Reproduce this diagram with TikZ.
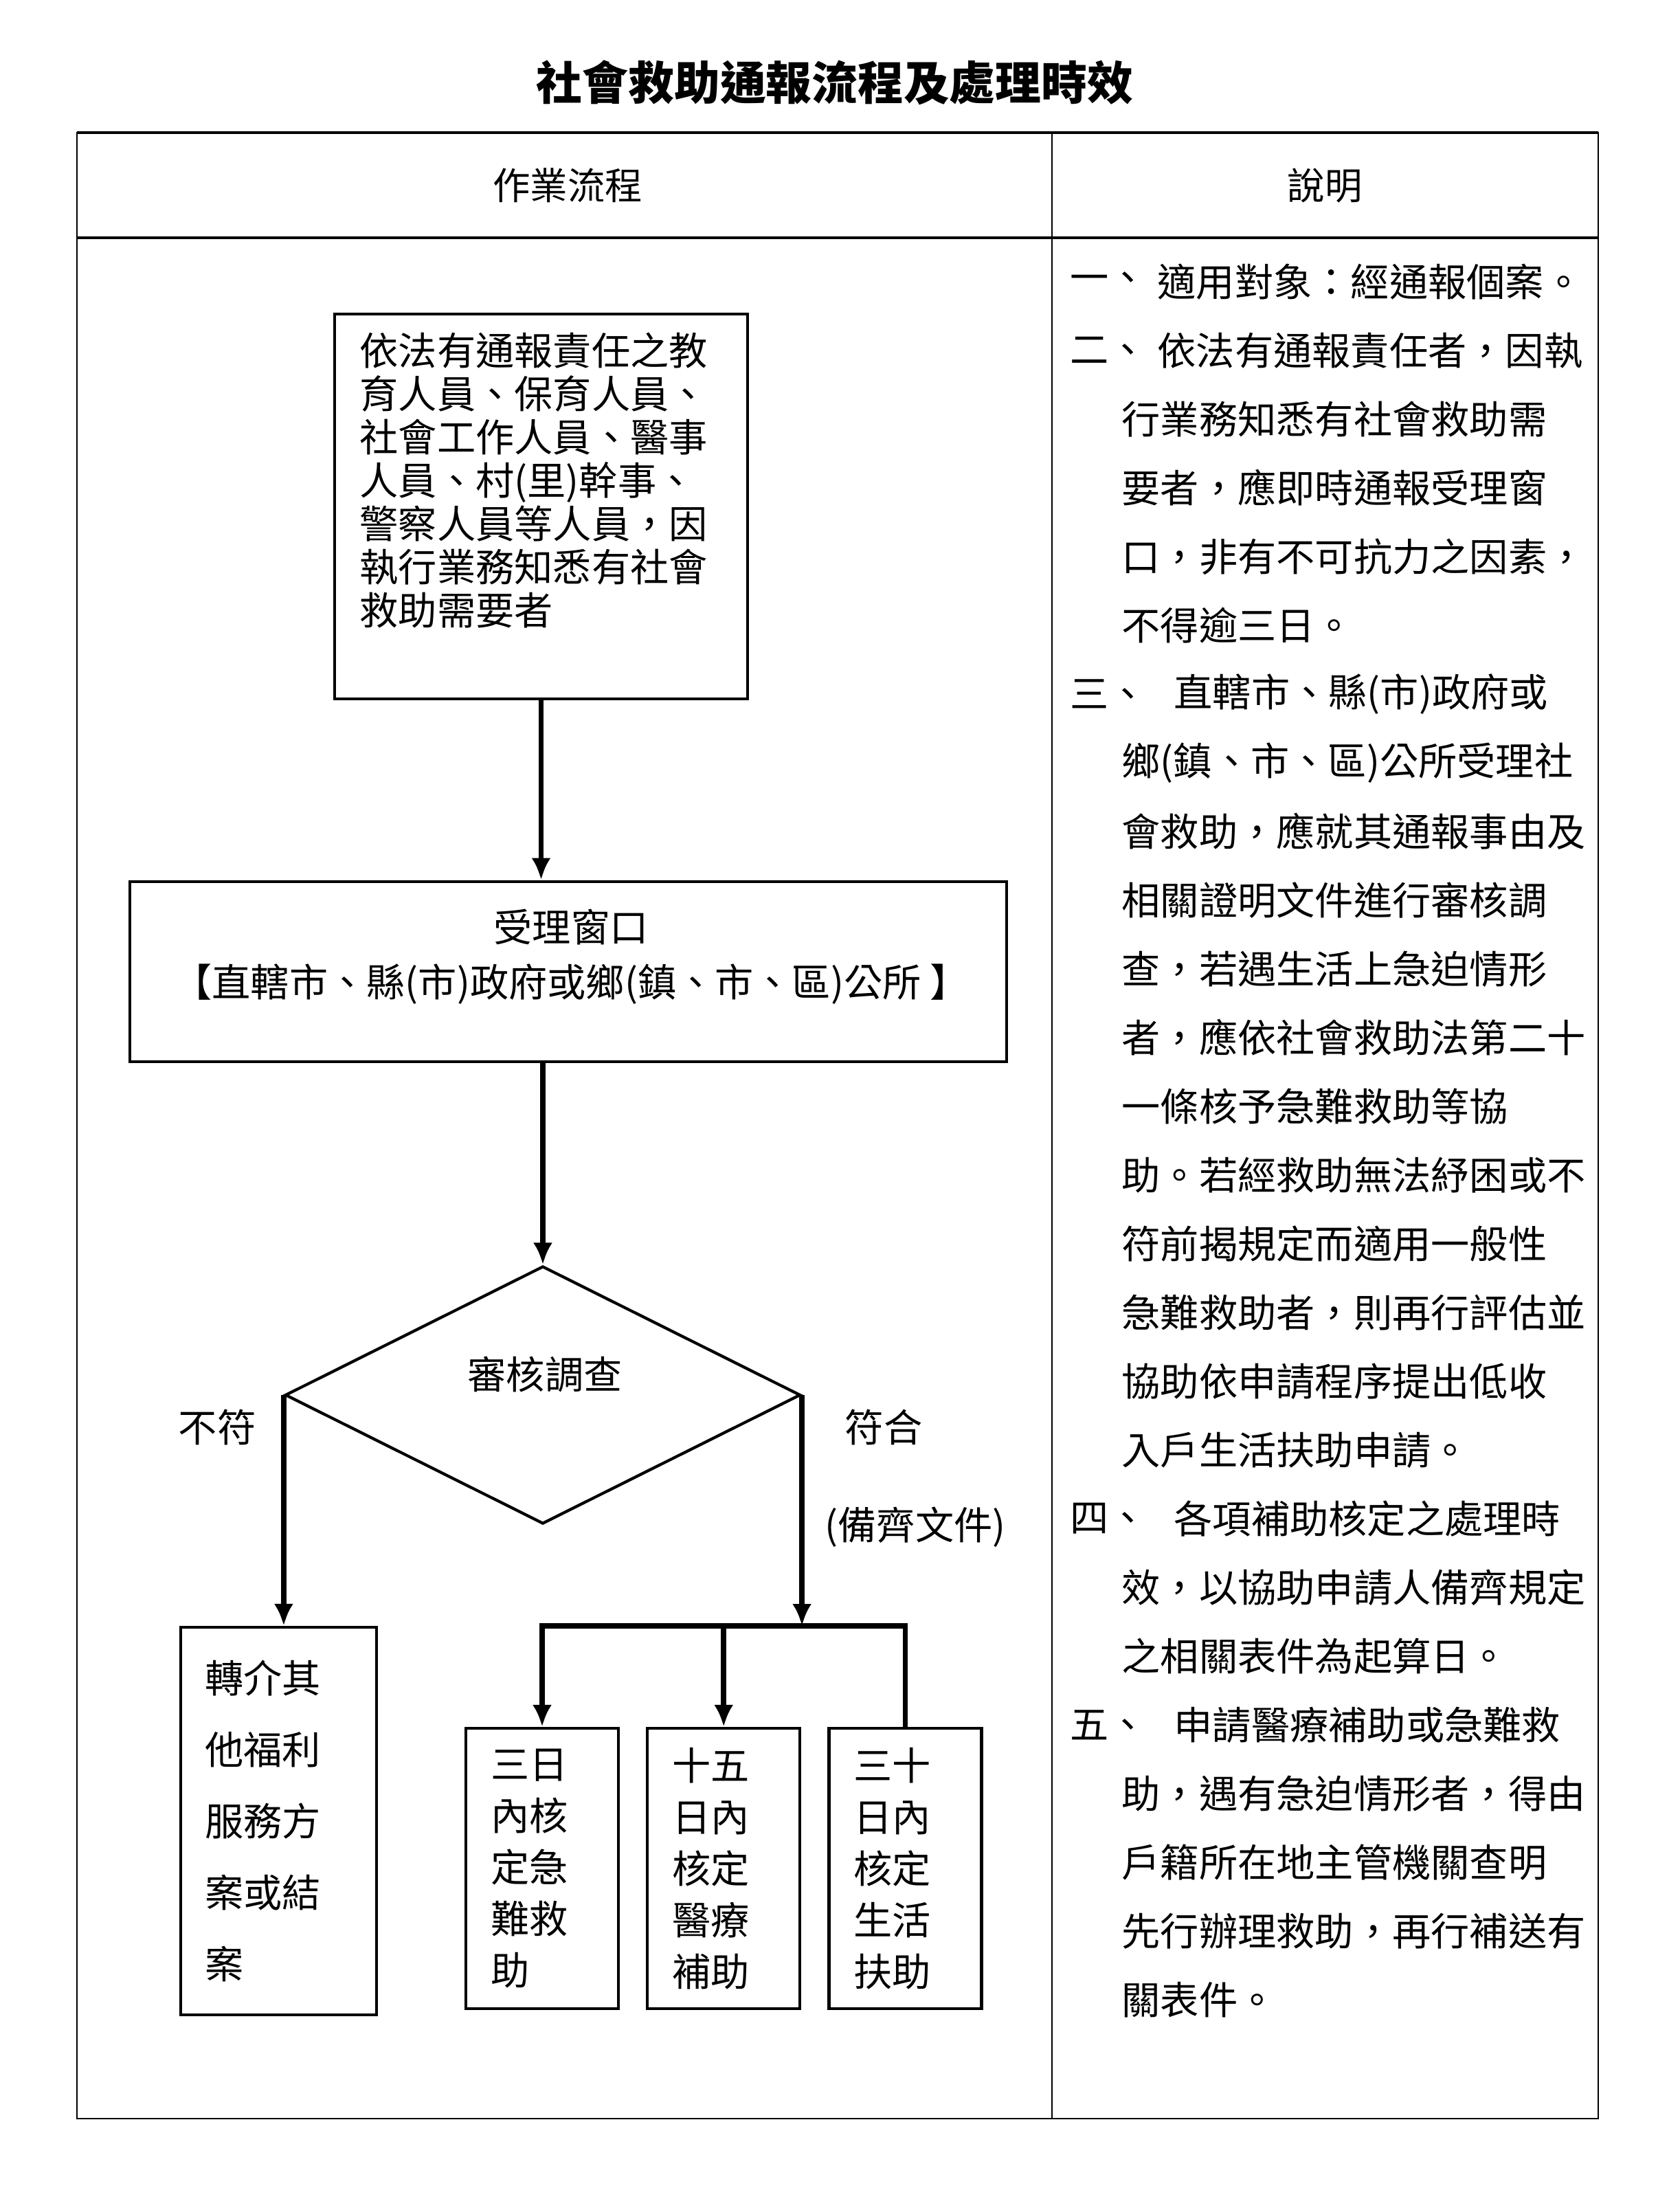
\documentclass[tikz,border=0pt]{standalone}
\usepackage{fontspec}
\setmainfont{Noto Sans CJK TC}
\usetikzlibrary{shapes.geometric,positioning,arrows.meta}
\tikzstyle{arrow} = [line width=2.2pt,-{Latex[length=3.2mm,width=2.8mm]}]
\tikzstyle{frame} = [line width=0.8pt]
\tikzset{
 box/.style
  = {rectangle, draw, line width=1.4pt, inner sep=0pt},
 stagebox/.style
  = {rectangle, draw, line width=1.2pt, align=left, text width=1.5cm,
     inner xsep=0.36cm, inner ysep=0pt, minimum height=4.08cm,
     font=\fontsize{16pt}{0.75cm}\selectfont},
 decision/.style
  = {diamond, draw, line width=1.2pt, inner sep=0pt,
     minimum width=7.5cm, minimum height=3.75cm},
 txt/.style
  = {inner sep=0pt, font=\fontsize{16pt}{0.8cm}\selectfont},
 note/.style
  = {anchor=west, inner sep=0pt, font=\fontsize{16pt}{16pt}\selectfont},
}

\begin{document}
\begin{tikzpicture}
\useasboundingbox (0,0) rectangle (24.44,-32.16);

% Title
\node[inner sep=0pt, font=\fontsize{19pt}{19pt}\selectfont\bfseries] (title) at (12.15,-1.20) {社會救助通報流程及處理時效};

% Table frame
\draw[frame] (1.12,-1.93) rectangle (23.26,-30.83);
\draw[line width=1.1pt] (1.12,-1.93) -- (23.26,-1.93);
\draw[line width=1.1pt] (1.12,-3.46) -- (23.26,-3.46);
\draw[frame] (15.31,-1.93) -- (15.31,-30.83);

% Headers
\node[inner sep=0pt, font=\fontsize{15.5pt}{15.5pt}\selectfont] (hflow) at (8.26,-2.70) {作業流程};
\node[inner sep=0pt, font=\fontsize{15.5pt}{15.5pt}\selectfont] (hnote) at (19.28,-2.70) {說明};

% Reporter
\node[box, minimum width=6.01cm, minimum height=5.60cm] (rep) at (7.875,-7.37) {};
\node[txt, anchor=north west, align=left, font=\fontsize{16pt}{0.63cm}\selectfont] (rep-t) at (5.23,-4.83)
  {依法有通報責任之教\\育人員、保育人員、\\社會工作人員、醫事\\人員、村(里)幹事、\\警察人員等人員，因\\執行業務知悉有社會\\救助需要者};

% Window
\node[box, minimum width=12.76cm, minimum height=2.62cm] (win) at (8.27,-14.14) {};
\node[txt, align=center] (win-t) at (8.31,-13.92)
  {受理窗口\\【直轄市、縣(市)政府或鄉(鎮、市、區)公所 】};

% Check
\node[decision] (chk) at (7.90,-20.30) {};
\node[txt] (chk-t) at (7.93,-20.00) {審核調查};
\node[txt] (no) at (3.16,-20.77) {不符};
\node[txt] (yes) at (12.86,-20.77) {符合};
\node[txt] (docs) at (13.32,-22.22) {(備齊文件)};

% Outcomes
\node[stagebox, text width=2.15cm, inner xsep=0.35cm, minimum height=5.64cm,
      font=\fontsize{16pt}{1.04cm}\selectfont] (ref) at (4.055,-26.50)
  {轉介其\\他福利\\服務方\\案或結\\案};
\node[stagebox] (d3) at (7.89,-27.19) {三日\\內核\\定急\\難救\\助};
\node[stagebox, right=0.38cm of d3] (d15) {十五\\日內\\核定\\醫療\\補助};
\node[stagebox, right=0.38cm of d15] (d30) {三十\\日內\\核定\\生活\\扶助};
\coordinate (bus) at (7.89,-23.66);

% Arrows
\draw[arrow] (rep.south) -- (rep.south |- win.north);
\draw[arrow] (chk.north |- win.south) -- (chk.north);
\draw[arrow] (chk.west) -- (chk.west |- ref.north);
\draw[arrow] (chk.east) -- (chk.east |- bus);
\draw[arrow] (d30.north) |- (bus) -- (d3.north);
\draw[arrow] (d15.north |- bus) -- (d15.north);

% Notes
\foreach \n/\r in {一/0,二/1,三/6,四/18,五/21}
  \node[note] (num\r) at (15.57,{-4.10-\r}) {\n、};
\foreach \t [count=\i from 0] in {
  {\hspace{5.2mm}適用對象：經通報個案。},
  {\hspace{5.2mm}依法有通報責任者，因執},
  {行業務知悉有社會救助需},
  {要者，應即時通報受理窗},
  {口，非有不可抗力之因素，},
  {不得逾三日。},
  {\hspace{7.6mm}直轄市、縣(市)政府或},
  {鄉(鎮、市、區)公所受理社},
  {會救助，應就其通報事由及},
  {相關證明文件進行審核調},
  {查，若遇生活上急迫情形},
  {者，應依社會救助法第二十},
  {一條核予急難救助等協},
  {助。若經救助無法紓困或不},
  {符前揭規定而適用一般性},
  {急難救助者，則再行評估並},
  {協助依申請程序提出低收},
  {入戶生活扶助申請。},
  {\hspace{7.6mm}各項補助核定之處理時},
  {效，以協助申請人備齊規定},
  {之相關表件為起算日。},
  {\hspace{7.6mm}申請醫療補助或急難救},
  {助，遇有急迫情形者，得由},
  {戶籍所在地主管機關查明},
  {先行辦理救助，再行補送有},
  {關表件。}}
  \node[note] (line\i) at (16.32,{-4.10-\i}) {\t};

\end{tikzpicture}
\end{document}
